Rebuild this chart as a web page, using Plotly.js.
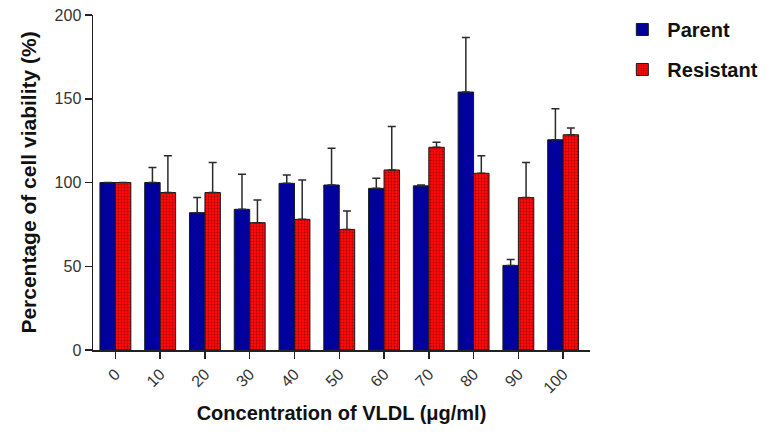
<!DOCTYPE html>
<html>
<head>
<meta charset="utf-8">
<script src="https://cdn.plot.ly/plotly-3.0.1.min.js"></script>
<style>
  html, body { margin: 0; padding: 0; background: #fff; }
  #plot { width: 767px; height: 433px; }
</style>
</head>
<body>
<div id="plot"></div>
<script>
var concentrations = ['0', '10', '20', '30', '40', '50', '60', '70', '80', '90', '100'];

var parentMean = [100, 100, 82, 84, 99.5, 98.5, 96.5, 98, 154, 50.5, 125.5];
var parentErr  = [0, 9, 9, 21, 5, 22, 6, 0.5, 32.5, 3.5, 18.5];

var resistantMean = [100, 94, 94, 76, 78, 72, 107.5, 121, 105.5, 91, 128.5];
var resistantErr  = [0, 22, 18, 13.5, 23.5, 11, 26, 3, 10.5, 21, 4];

var zeros = concentrations.map(function () { return 0; });

var parent = {
    type: 'bar',
    name: 'Parent',
    x: concentrations,
    y: parentMean,
    legendgroup: 'p',
    marker: {
        color: '#0000a6',
        line: { color: '#1a1a1a', width: 1 },
        pattern: { shape: 'x', size: 3, solidity: 0.25, fgcolor: '#000050', fgopacity: 0.6, bgcolor: '#0000a6' }
    },
    error_y: {
        type: 'data', symmetric: false, array: parentErr, arrayminus: zeros,
        color: '#2a2a2a', thickness: 1.5, width: 4
    }
};

var resistant = {
    type: 'bar',
    name: 'Resistant',
    x: concentrations,
    y: resistantMean,
    legendgroup: 'r',
    marker: {
        color: '#ff0000',
        line: { color: '#1a1a1a', width: 1 },
        pattern: { shape: '.', size: 3, solidity: 0.3, fgcolor: '#700000', fgopacity: 0.6, bgcolor: '#ff0a0a' }
    },
    error_y: {
        type: 'data', symmetric: false, array: resistantErr, arrayminus: zeros,
        color: '#2a2a2a', thickness: 1.5, width: 4
    }
};

var layout = {
    width: 767,
    height: 433,
    paper_bgcolor: '#fff',
    plot_bgcolor: '#fff',
    font: { family: 'Arial, "Liberation Sans", sans-serif', color: '#222' },
    margin: { l: 93, r: 177, t: 15, b: 83, autoexpand: false },
    barmode: 'group',
    bargap: 0.31,
    bargroupgap: 0,
    showlegend: true,
    legend: {
        x: 1.055, xanchor: 'left', y: 1.015, yanchor: 'top',
        font: { size: 20, color: '#111', weight: 'bold' },
        tracegroupgap: 11,
        itemwidth: 40
    },
    xaxis: {
        type: 'category',
        range: [-0.5, 10.6],
        showline: true, linecolor: '#222', linewidth: 1.5,
        ticks: 'outside', ticklen: 7, tickcolor: '#222', tickwidth: 1.5,
        tickangle: -45,
        tickfont: { size: 16, color: '#333' },
        showgrid: false, zeroline: false,
        title: {
            text: 'Concentration of VLDL (μg/ml)',
            font: { size: 20, color: '#111', weight: 'bold' },
            standoff: 10
        }
    },
    yaxis: {
        range: [0, 200],
        tickvals: [0, 50, 100, 150, 200],
        showline: true, linecolor: '#222', linewidth: 1.5,
        ticks: 'outside', ticklen: 7, tickcolor: '#222', tickwidth: 1.5,
        tickfont: { size: 16, color: '#333' },
        showgrid: false, zeroline: false,
        title: {
            text: 'Percentage of cell viability (%)',
            font: { size: 21, color: '#111', weight: 'bold' },
            standoff: 12
        }
    }
};

Plotly.newPlot('plot', [parent, resistant], layout, { staticPlot: true });
</script>
</body>
</html>
